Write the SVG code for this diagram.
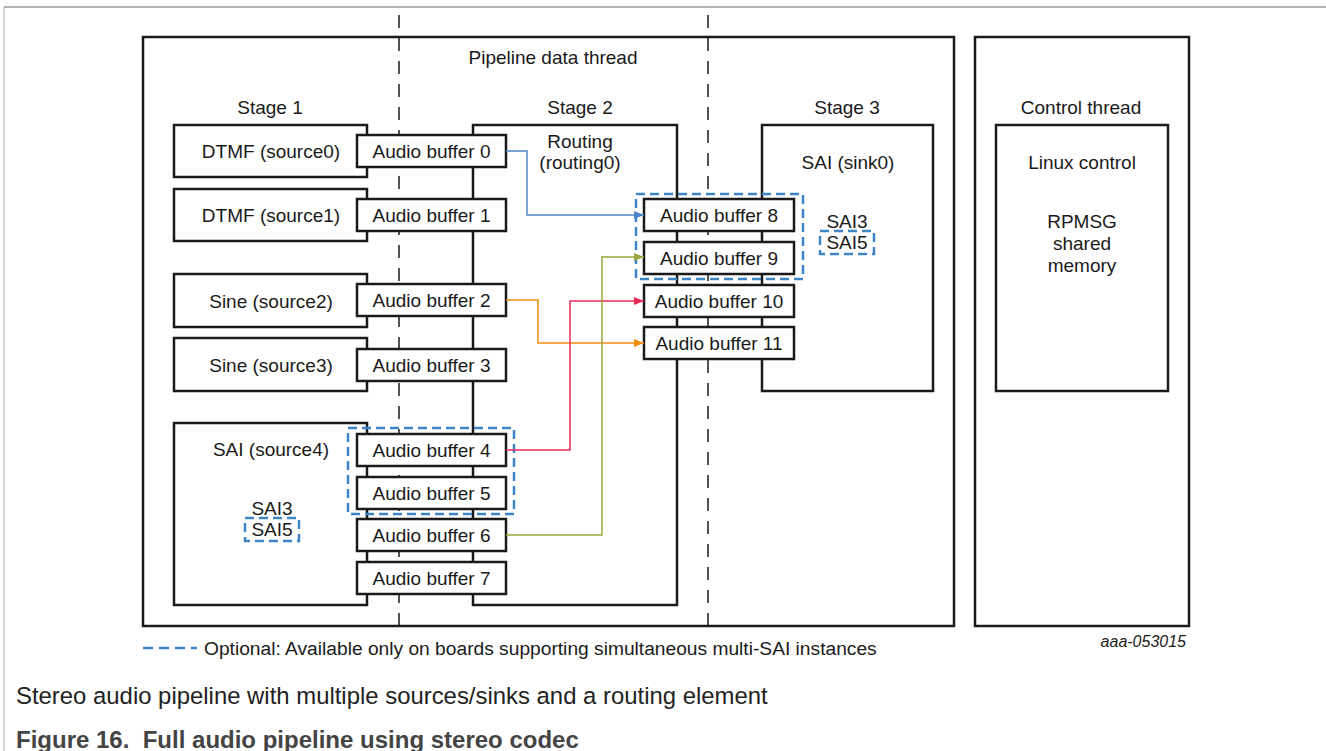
<svg xmlns="http://www.w3.org/2000/svg" width="1326" height="751" viewBox="0 0 1326 751">
<defs>
<style>
text{font-family:"Liberation Sans",Arial,sans-serif;fill:#1a1a1a}
.t{font-size:19px;text-anchor:middle}
.box{fill:#fff;stroke:#1a1a1a;stroke-width:2.5}
.frame{fill:none;stroke:#1a1a1a;stroke-width:2.5}
.buf{fill:#fff;stroke:#1a1a1a;stroke-width:2.5}
.opt{fill:none;stroke:#3d85c6;stroke-width:2.5;stroke-dasharray:9 5}
.div{fill:none;stroke:#1a1a1a;stroke-width:1.5;stroke-dasharray:13 10}
.c{fill:none;stroke-width:1.5}
</style>
<marker id="aB" viewBox="0 0 10 10" refX="10" refY="5" markerWidth="10" markerHeight="10" markerUnits="userSpaceOnUse" orient="auto"><path d="M0,1 L10,5 L0,9 z" fill="#4a86c8"/></marker>
<marker id="aO" viewBox="0 0 10 10" refX="10" refY="5" markerWidth="10" markerHeight="10" markerUnits="userSpaceOnUse" orient="auto"><path d="M0,1 L10,5 L0,9 z" fill="#f0900f"/></marker>
<marker id="aR" viewBox="0 0 10 10" refX="10" refY="5" markerWidth="10" markerHeight="10" markerUnits="userSpaceOnUse" orient="auto"><path d="M0,1 L10,5 L0,9 z" fill="#e62a5a"/></marker>
<marker id="aG" viewBox="0 0 10 10" refX="10" refY="5" markerWidth="10" markerHeight="10" markerUnits="userSpaceOnUse" orient="auto"><path d="M0,1 L10,5 L0,9 z" fill="#9aa53c"/></marker>
</defs>
<rect width="1326" height="751" fill="#fff"/>
<g id="page-frame">
<line x1="4" y1="7" x2="1326" y2="7" stroke="#666" stroke-width="1"/>
<line x1="4" y1="7" x2="4" y2="751" stroke="#aaa" stroke-width="1"/>
</g>
<g id="pipeline-thread">
<rect class="frame" x="143" y="37" width="811" height="589"/>
<text class="t" x="553" y="64">Pipeline data thread</text>
<text class="t" x="270" y="114">Stage 1</text>
<text class="t" x="580" y="114">Stage 2</text>
<text class="t" x="847" y="114">Stage 3</text>
</g>
<g id="control-thread">
<rect class="frame" x="975" y="37" width="214" height="589"/>
<text class="t" x="1081" y="114">Control thread</text>
</g>
<g id="linux-control">
<rect class="frame" x="996" y="125" width="172" height="266"/>
<text class="t" x="1082" y="169">Linux control</text>
<text class="t" x="1082" y="228">RPMSG</text>
<text class="t" x="1082" y="250">shared</text>
<text class="t" x="1082" y="272">memory</text>
</g>
<g id="stage-dividers">
<line class="div" x1="399" y1="15" x2="399" y2="636"/>
<line class="div" x1="708" y1="15" x2="708" y2="636"/>
</g>
<g id="source0"><rect class="box" x="174" y="125" width="193" height="52"/><text class="t" x="271" y="158">DTMF (source0)</text></g>
<g id="source1"><rect class="box" x="174" y="189" width="193" height="52"/><text class="t" x="271" y="222">DTMF (source1)</text></g>
<g id="source2"><rect class="box" x="174" y="274" width="193" height="53"/><text class="t" x="271" y="308">Sine (source2)</text></g>
<g id="source3"><rect class="box" x="174" y="338" width="193" height="53"/><text class="t" x="271" y="372">Sine (source3)</text></g>
<g id="source4"><rect class="box" x="174" y="423" width="193" height="182"/><text class="t" x="271" y="456">SAI (source4)</text>
<text class="t" x="272" y="515">SAI3</text>
<rect class="opt" x="245" y="518" width="54" height="23"/>
<text class="t" x="272" y="536">SAI5</text></g>
<g id="routing0"><rect class="box" x="473" y="125" width="204" height="480"/>
<text class="t" x="580" y="148">Routing</text>
<text class="t" x="580" y="169">(routing0)</text></g>
<g id="sink0"><rect class="box" x="762" y="125" width="171" height="266"/>
<text class="t" x="848" y="169">SAI (sink0)</text>
<text class="t" x="847" y="228">SAI3</text>
<rect class="opt" x="820" y="231" width="54" height="23"/>
<text class="t" x="847" y="249">SAI5</text></g>
<g id="buffer0"><rect class="buf" x="357" y="135" width="149" height="32"/><text class="t" x="431.5" y="157.5">Audio buffer 0</text></g>
<g id="buffer1"><rect class="buf" x="357" y="199" width="149" height="32"/><text class="t" x="431.5" y="221.5">Audio buffer 1</text></g>
<g id="buffer2"><rect class="buf" x="357" y="284" width="149" height="32"/><text class="t" x="431.5" y="306.5">Audio buffer 2</text></g>
<g id="buffer3"><rect class="buf" x="357" y="349" width="149" height="32"/><text class="t" x="431.5" y="371.5">Audio buffer 3</text></g>
<g id="buffer4"><rect class="buf" x="357" y="434" width="149" height="32"/><text class="t" x="431.5" y="456.5">Audio buffer 4</text></g>
<g id="buffer5"><rect class="buf" x="357" y="477" width="149" height="32"/><text class="t" x="431.5" y="499.5">Audio buffer 5</text></g>
<g id="buffer6"><rect class="buf" x="357" y="519" width="149" height="32"/><text class="t" x="431.5" y="541.5">Audio buffer 6</text></g>
<g id="buffer7"><rect class="buf" x="357" y="562" width="149" height="32"/><text class="t" x="431.5" y="584.5">Audio buffer 7</text></g>
<g id="buffer8"><rect class="buf" x="644" y="199" width="150" height="32"/><text class="t" x="719" y="221.5">Audio buffer 8</text></g>
<g id="buffer9"><rect class="buf" x="644" y="242" width="150" height="32"/><text class="t" x="719" y="264.5">Audio buffer 9</text></g>
<g id="buffer10"><rect class="buf" x="644" y="285" width="150" height="32"/><text class="t" x="719" y="307.5">Audio buffer 10</text></g>
<g id="buffer11"><rect class="buf" x="644" y="327" width="150" height="32"/><text class="t" x="719" y="349.5">Audio buffer 11</text></g>
<g id="optional-groups">
<rect class="opt" x="348" y="428" width="166" height="86"/>
<rect class="opt" x="636" y="194" width="167" height="85"/>
</g>
<g id="connectors">
<polyline class="c" stroke="#4a86c8" points="506,151 527,151 527,215 644,215" marker-end="url(#aB)"/>
<polyline class="c" stroke="#f0900f" points="506,300 538,300 538,343 644,343" marker-end="url(#aO)"/>
<polyline class="c" stroke="#e62a5a" points="506,450 570,450 570,301 644,301" marker-end="url(#aR)"/>
<polyline class="c" stroke="#9aa53c" points="506,535 602,535 602,257 644,257" marker-end="url(#aG)"/>
</g>
<g id="legend">
<line x1="143" y1="648" x2="197" y2="648" stroke="#3d85c6" stroke-width="2.5" stroke-dasharray="10 6"/>
<text x="204" y="655" style="font-size:19.2px">Optional: Available only on boards supporting simultaneous multi-SAI instances</text>
<text x="1186" y="647" style="font-size:16px;font-style:italic;text-anchor:end">aaa-053015</text>
</g>
<g id="caption">
<text x="16" y="704" style="font-size:23.9px;fill:#222">Stereo audio pipeline with multiple sources/sinks and a routing element</text>
<text x="16" y="748" xml:space="preserve" style="font-size:24px;font-weight:bold;fill:#444">Figure 16.&#160; Full audio pipeline using stereo codec</text>
</g>
</svg>
